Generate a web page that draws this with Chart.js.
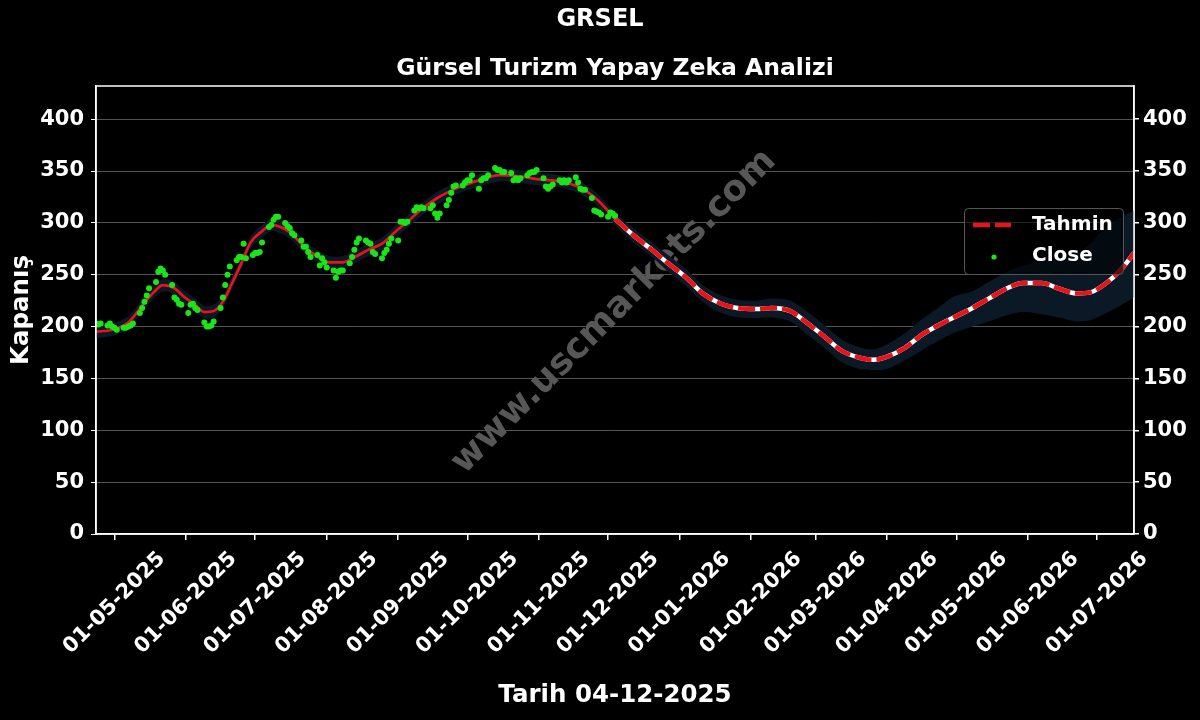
<!DOCTYPE html>
<html>
<head>
<meta charset="utf-8">
<script src="https://cdn.jsdelivr.net/npm/chart.js@4.4.1/dist/chart.umd.min.js"></script>
<style>
html,body{margin:0;padding:0;background:#000;}
</style>
</head>
<body>
<canvas id="grafik" width="1200" height="720"></canvas>
<script>
var baslik="GRSEL";
var altBaslik="Gürsel Turizm Yapay Zeka Analizi";
var xBaslik="Tarih 04-12-2025";
var yBaslik="Kapanış";
var filigran="www.uscmarkets.com";

// kapanis: her islem gunu icin bir deger, 23-04-2025'ten 04-12-2025'e
var ilkIslemGunu="2025-04-23";
var kapanis=[
    203,202,203,
    201,203,200,199,197,
    199,199,200,201,203,
    213,218,224,230,237,
    243,253,256,254,250,
    240,228,226,222,221,
    213,221,222,218,216,
    204,200,200,201,205,
    218,228,240,250,258,
    264,267,267,280,266,
    269,271,271,272,281,
    296,298,303,306,306,
    300,297,295,290,288,
    283,277,277,272,267,
    269,259,266,262,257,
    254,247,253,254,254,
    261,267,274,281,285,
    283,281,280,272,270,
    266,271,274,280,285,
    283,301,301,300,301,
    312,315,314,315,314,
    314,317,309,305,309,
    317,322,329,335,336,
    336,339,341,341,346,
    333,341,343,343,346,
    353,351,351,349,349,
    348,341,343,341,343,
    346,348,349,349,351,
    343,335,333,335,337,
    341,339,341,339,341,
    344,339,333,332,332,
    324,312,311,310,308,
    306,310,309,307
];

// gecmis icin yumusatilmis egri ve bandi
var trendTarih=["2025-04-23","2025-04-30","2025-05-07","2025-05-14","2025-05-18","2025-05-22","2025-05-27","2025-05-31",
    "2025-06-05","2025-06-09","2025-06-13","2025-06-17","2025-06-21","2025-06-25","2025-06-29","2025-07-04","2025-07-08",
    "2025-07-12","2025-07-16","2025-07-21","2025-07-27","2025-08-02","2025-08-08","2025-08-14","2025-08-19","2025-08-25",
    "2025-08-31","2025-09-06","2025-09-10","2025-09-18","2025-09-27","2025-10-06","2025-10-15","2025-10-23","2025-11-01",
    "2025-11-10","2025-11-19","2025-11-26","2025-12-04"];
var trendDeger=[195,197,204,223,233,240,237,229,221,214,215,224,242,261,281,292,298,296,291,280,269,262,262,268,274,280,
    292,303,311,324,334,341,346,345,342,340,334,323,304];
var trendUst=[201,203,210,229,239,246,243,235,227,220,221,230,248,267,287,298,304,302,297,286,275,268,268,274,280,286,
    298,309,317,330,340,347,352,351,348,346,340,329,310];
var trendAlt=[189,191,198,217,227,234,231,223,215,208,209,218,236,255,275,286,292,290,285,274,263,256,256,262,268,274,
    286,297,305,318,328,335,340,339,336,334,328,317,298];

// tahmin ve guven bandi
var tahminTarih=["2025-12-04","2025-12-12","2025-12-20","2025-12-27","2026-01-04","2026-01-11","2026-01-19","2026-01-26",
    "2026-02-03","2026-02-10","2026-02-18","2026-02-25","2026-03-05","2026-03-12","2026-03-20","2026-03-26","2026-04-01",
    "2026-04-09","2026-04-16","2026-04-23","2026-04-30","2026-05-08","2026-05-15","2026-05-23","2026-05-30","2026-06-07",
    "2026-06-14","2026-06-22","2026-06-28","2026-07-05","2026-07-11","2026-07-17"];
var tahminDeger=[304,288,274,261,247,232,222,218,217,218,215,204,190,177,170,168,171,180,192,201,209,218,227,237,242,242,
    237,232,233,242,254,271];
var tahminUst=[310,295,281,269,255,240,230,226,225,227,225,215,201,188,180,178,183,194,207,218,229,234,243,253,259,263,
    265,270,280,296,305,312];
var tahminAlt=[298,281,267,253,239,224,213,209,208,209,205,193,179,166,159,158,159,168,177,186,194,200,205,211,214,212,
    209,205,206,213,220,228];

var ayTikleri=["2025-05-01","2025-06-01","2025-07-01","2025-08-01","2025-09-01","2025-10-01","2025-11-01","2025-12-01",
    "2026-01-01","2026-02-01","2026-03-01","2026-04-01","2026-05-01","2026-06-01","2026-07-01"];
var yTikleri=[0,50,100,150,200,250,300,350,400];
var xBaslangic="2025-04-23", xBitis="2026-07-17";
var yUst=432;

var fonte="'DejaVu Sans', sans-serif";

function gun(s){
    var p=s.split("-");
    return Date.UTC(+p[0],+p[1]-1,+p[2])/864e5;
}
function etiket(s){
    var p=s.split("-");
    return p[2]+"-"+p[1]+"-"+p[0];
}
function noktalar(tarihler,degerler){
    var r=[];
    for (let i = 0; i < tarihler.length; i++) {
        r.push({x:gun(tarihler[i]),y:degerler[i]});
    }
    return r;
}

var islemGunleri=[];
var d=gun(ilkIslemGunu);
while(islemGunleri.length<kapanis.length){
    var wd=new Date(d*864e5).getUTCDay();
    if(wd!==0 && wd!==6) islemGunleri.push(d);
    d++;
}
var kapanisNoktalari=[];
for (let i = 0; i < kapanis.length; i++) {
    kapanisNoktalari.push({x:islemGunleri[i],y:kapanis[i]});
}

var bantTarih=trendTarih.concat(tahminTarih.slice(1));
var bantUst=trendUst.concat(tahminUst.slice(1));
var bantAlt=trendAlt.concat(tahminAlt.slice(1));

var cizimEklentisi={
    id:"cizim",
    beforeDatasetsDraw:function(chart){
        var ctx=chart.ctx;
        ctx.save();
        ctx.translate(614,312);
        ctx.rotate(-Math.PI/4);
        ctx.font="bold 36px "+fonte;
        ctx.fillStyle="#575757";
        ctx.textAlign="center";
        ctx.textBaseline="middle";
        ctx.fillText(filigran,0,0);
        ctx.restore();
    },
    afterDraw:function(chart){
        var ctx=chart.ctx, a=chart.chartArea;
        ctx.save();
        ctx.strokeStyle="#fff";
        ctx.lineWidth=1.5;
        ctx.strokeRect(a.left,a.top,a.right-a.left,a.bottom-a.top);

        ctx.fillStyle="#fff";
        ctx.textAlign="center";
        ctx.textBaseline="middle";
        ctx.font="bold 24px "+fonte;
        ctx.fillText(baslik,600,20);
        ctx.font="bold 23.5px "+fonte;
        ctx.fillText(altBaslik,(a.left+a.right)/2,69);
        ctx.font="bold 24.5px "+fonte;
        ctx.fillText(xBaslik,(a.left+a.right)/2,696);
        ctx.save();
        ctx.translate(22,(a.top+a.bottom)/2);
        ctx.rotate(-Math.PI/2);
        ctx.fillText(yBaslik,0,0);
        ctx.restore();

        // x ekseni tarih etiketleri
        ctx.font="bold 21px "+fonte;
        var sx=chart.scales.x;
        for (let i = 0; i < ayTikleri.length; i++) {
            var px=sx.getPixelForValue(gun(ayTikleri[i]));
            ctx.save();
            ctx.translate(px,603);
            ctx.rotate(-Math.PI/4);
            ctx.fillText(etiket(ayTikleri[i]),0,0);
            ctx.restore();
        }

        // lejant
        ctx.beginPath();
        ctx.roundRect(964.5,208.5,159,66,4);
        ctx.fillStyle="rgba(0,0,0,0.55)";
        ctx.fill();
        ctx.strokeStyle="#555";
        ctx.lineWidth=1;
        ctx.stroke();
        ctx.beginPath();
        ctx.setLineDash([17,5]);
        ctx.strokeStyle="#e8141a";
        ctx.lineWidth=4.5;
        ctx.moveTo(973,225);
        ctx.lineTo(1011,225);
        ctx.stroke();
        ctx.setLineDash([]);
        ctx.beginPath();
        ctx.fillStyle="#19e619";
        ctx.arc(994,257,2.6,0,Math.PI*2);
        ctx.fill();
        ctx.fillStyle="#fff";
        ctx.textAlign="left";
        ctx.font="bold 20px "+fonte;
        ctx.fillText("Tahmin",1032,225);
        ctx.fillText("Close",1032,256);
        ctx.restore();
    }
};

var yEkseniOrtak={
    type:"linear",
    min:0,
    max:yUst,
    afterBuildTicks:function(s){ s.ticks=yTikleri.map(function(v){return {value:v};}); },
    ticks:{color:"#fff",font:{family:fonte,size:21,weight:"bold"}},
    border:{color:"#fff",width:1.5}
};

var grafik=new Chart(document.getElementById("grafik"),{
    type:"line",
    data:{
        datasets:[
            {
                label:"Close",
                data:kapanisNoktalari,
                showLine:false,
                pointRadius:3,
                pointBorderWidth:0,
                pointBackgroundColor:"#19e619",
                borderColor:"#19e619"
            },
            {
                label:"Trend",
                data:noktalar(trendTarih,trendDeger),
                borderColor:"#e8141a",
                borderWidth:2.7,
                pointRadius:0,
                cubicInterpolationMode:"monotone",
                fill:false
            },
            {
                label:"Tahmin",
                data:noktalar(tahminTarih,tahminDeger),
                borderColor:"#e8141a",
                borderWidth:4.5,
                borderDash:[17,5],
                pointRadius:0,
                cubicInterpolationMode:"monotone",
                fill:false
            },
            {
                label:"Tahmin alt",
                data:noktalar(tahminTarih,tahminDeger),
                borderColor:"#ffffff",
                borderWidth:4.5,
                pointRadius:0,
                cubicInterpolationMode:"monotone",
                fill:false
            },
            {
                label:"Bant ust",
                data:noktalar(bantTarih,bantUst),
                borderWidth:0,
                borderColor:"rgba(0,0,0,0)",
                backgroundColor:"#0a1925",
                pointRadius:0,
                tension:0.3,
                fill:5
            },
            {
                label:"Bant alt",
                data:noktalar(bantTarih,bantAlt),
                borderWidth:0,
                borderColor:"rgba(0,0,0,0)",
                pointRadius:0,
                tension:0.3,
                fill:false
            }
        ]
    },
    options:{
        responsive:false,
        animation:false,
        devicePixelRatio:1,
        layout:{padding:{top:86,left:0,right:0,bottom:0}},
        plugins:{legend:{display:false},title:{display:false},tooltip:{enabled:false}},
        scales:{
            x:{
                type:"linear",
                min:gun(xBaslangic),
                max:gun(xBitis),
                afterBuildTicks:function(s){ s.ticks=ayTikleri.map(function(t){return {value:gun(t)};}); },
                ticks:{autoSkip:false,maxRotation:0,minRotation:0,callback:function(){return "";}},
                grid:{drawOnChartArea:false,color:"#fff",tickColor:"#fff",tickLength:6,lineWidth:1.5},
                border:{color:"#fff",width:1.5},
                afterFit:function(s){ s.height=186; }
            },
            y:Object.assign({},yEkseniOrtak,{
                position:"left",
                ticks:Object.assign({},yEkseniOrtak.ticks,{padding:7}),
                grid:{color:"rgba(255,255,255,0.33)",tickColor:"#fff",tickLength:5,lineWidth:1},
                afterFit:function(s){ s.width=96; }
            }),
            y2:Object.assign({},yEkseniOrtak,{
                position:"right",
                ticks:Object.assign({},yEkseniOrtak.ticks,{padding:4}),
                grid:{drawOnChartArea:false,tickColor:"#fff",tickLength:5,lineWidth:1.5},
                afterFit:function(s){ s.width=66; }
            })
        }
    },
    plugins:[cizimEklentisi]
});
</script>
</body>
</html>
